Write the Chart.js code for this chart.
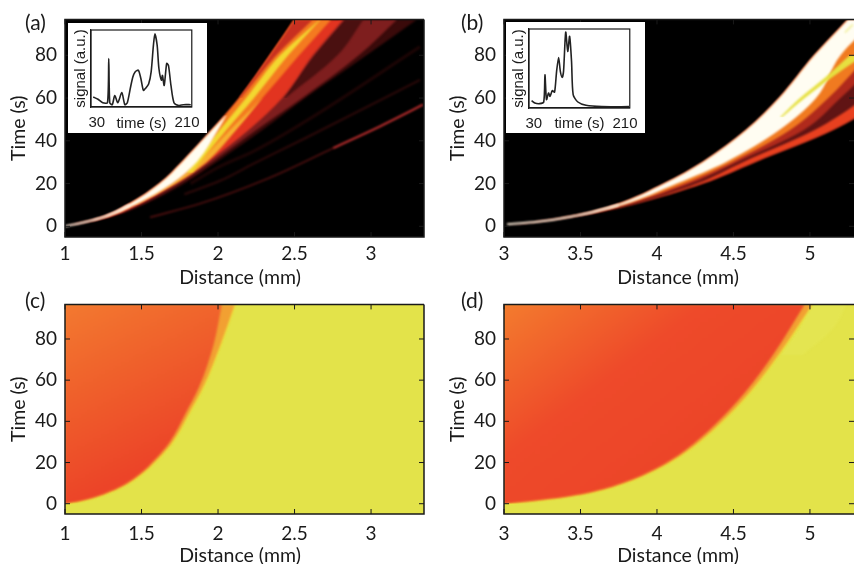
<!DOCTYPE html>
<html>
<head>
<meta charset="utf-8">
<script src="https://cdn.jsdelivr.net/npm/chart.js@4"></script>
<style>
html, body { margin: 0; padding: 0; background: #fff; overflow: hidden; }
#page { position: relative; width: 854px; height: 564px; overflow: hidden; }
.box { position: absolute; }
.inset { position: absolute; background: #fff; }
.tag { position: absolute; font: 21px Lato, sans-serif; color: #1a1a1a; line-height: 22px; }
.xname { position: absolute; width: 160px; margin-left: -80px; text-align: center; font: 19.5px Lato, sans-serif; color: #1a1a1a; line-height: 22px; }
</style>
</head>
<body>
<div id="page">
    <div class="box" style="left:0;top:0;width:430px;height:290px"><canvas id="panelA"></canvas></div>
    <div class="box" style="left:439px;top:0;width:415px;height:290px"><canvas id="panelB"></canvas></div>
    <div class="box" style="left:0;top:285px;width:430px;height:285px"><canvas id="panelC"></canvas></div>
    <div class="box" style="left:439px;top:285px;width:415px;height:285px"><canvas id="panelD"></canvas></div>
    <div class="inset" style="left:68px;top:23px;width:139px;height:110px"><canvas id="insetA"></canvas></div>
    <div class="inset" style="left:506px;top:22px;width:139px;height:111px"><canvas id="insetB"></canvas></div>
    <div class="tag" style="left:25px;top:11px">(a)</div>
    <div class="tag" style="left:461px;top:11px">(b)</div>
    <div class="tag" style="left:25px;top:289px">(c)</div>
    <div class="tag" style="left:461px;top:289px">(d)</div>
    <div class="xname" style="left:240px;top:266px">Distance (mm)</div>
    <div class="xname" style="left:678px;top:266px">Distance (mm)</div>
    <div class="xname" style="left:240px;top:544px">Distance (mm)</div>
    <div class="xname" style="left:678px;top:544px">Distance (mm)</div>
</div>
<script>
var timeTicks = [0, 20, 40, 60, 80];
var distanceTicksLeft = [1, 1.5, 2, 2.5, 3];
var distanceTicksRight = [3, 3.5, 4, 4.5, 5];

// panel (a): band edges, distance (mm) at each time (s)
var aTimes = [0, 4, 10, 20, 30, 45, 60, 80, 96.8];
var aEdge = [1, 1.23, 1.41, 1.62, 1.765, 1.96, 2.14, 2.34, 2.5];
var aDim = [1, 1.28, 1.51, 1.78, 1.99, 2.29, 2.57, 2.97, 3.3];
var aMedLeft = [1, 1.23, 1.41, 1.65, 1.85, 2.11, 2.35, 2.6, 2.8];
var aMedRight = [1, 1.27, 1.49, 1.75, 1.96, 2.25, 2.55, 2.92, 3.17];
var aRed = [1, 1.26, 1.47, 1.72, 1.93, 2.2, 2.42, 2.62, 2.82];
var aOrange = [1, 1.25, 1.46, 1.7, 1.89, 2.1, 2.29, 2.53, 2.74];
var aGapTimes = [60, 80, 96.8];
var aGapLeft = [2.43, 2.63, 2.83];
var aGapRight = [2.44, 2.78, 2.95];
var aRimEdge = [2.14, 2.34, 2.5];
var aRim = [2.15, 2.38, 2.62];
var aYellowTimes = [25, 30, 45, 60, 80, 96.8];
var aYellowLeft = [1.79, 1.84, 2.01, 2.183, 2.405, 2.665];
var aYellowRight = [1.83, 1.885, 2.055, 2.235, 2.458, 2.67];
var aWhiteTimes = [0, 4, 10, 20, 30, 45, 52];
var aWhiteLeft = [1, 1.23, 1.41, 1.62, 1.765, 1.96, 2.05];
var aWhiteRight = [1, 1.25, 1.455, 1.7, 1.86, 2, 2.055];
var aStartTimes = [0, 2, 4, 10];
var aStart = [1, 1.13, 1.235, 1.425];
var aStreakTimes = [10, 20, 30, 45, 60];
var aStreakLeft = [1.45, 1.69, 1.87, 2.078, 2.288];
var aStreakRight = [1.46, 1.725, 1.925, 2.118, 2.29];
var aTraceLowTimes = [4.2, 10.6, 22.2, 36.6];
var aTraceLow = [1.556, 1.882, 2.32, 2.752];
var aTraceHighTimes = [36.6, 46.8, 56.9];
var aTraceHigh = [2.752, 3.059, 3.34];
var aFaintTimes = [15, 21.3, 29.2, 41.2, 68.5];
var aFaint = [1.78, 2.013, 2.229, 2.569, 3.32];
var aFaint2Times = [20, 28, 35, 49, 84];
var aFaint2 = [1.82, 2.013, 2.229, 2.569, 3.32];

// panel (b)
var bTimes = [0, 2, 5, 10, 20, 30, 45, 60, 80, 96.8];
var bEdge = [3, 3.2, 3.46, 3.73, 4.05, 4.3, 4.585, 4.8, 5.03, 5.25];
var bLower = [3, 3.22, 3.5, 3.83, 4.3, 4.64, 5.15, 5.5, 5.9, 6.25];
var bRedLeft = [3, 3.215, 3.49, 3.81, 4.26, 4.56, 5.03, 5.36, 5.74, 6.1];
var bMed = [3, 3.21, 3.485, 3.8, 4.22, 4.525, 4.96, 5.2, 5.5, 5.8];
var bOrange = [3, 3.205, 3.475, 3.78, 4.18, 4.49, 4.87, 5.12, 5.38, 5.6];
var bWhite = [3, 3.205, 3.47, 3.77, 4.13, 4.45, 4.8, 5.04, 5.2, 5.43];
var bStartTimes = [1, 2, 5, 10];
var bStart = [3.02, 3.205, 3.475, 3.75];
var bYellowTimes = [51, 60, 70, 80];
var bYellowLeft = [4.804, 4.935, 5.105, 5.261];
var bYellowRight = [4.817, 4.967, 5.15, 5.353];
var bPaleTimes = [90.7, 94.4];
var bPale = [5.229, 5.281];

// panel (c) front
var cTimes = [0, 1.3, 3.2, 6, 9.5, 14.5, 21.5, 30, 43, 57, 77, 96.8];
var cInner = [1, 1.095, 1.195, 1.295, 1.392, 1.49, 1.588, 1.685, 1.782, 1.878, 1.97, 2.025];
var cOuter = [1, 1.102, 1.204, 1.305, 1.404, 1.503, 1.604, 1.703, 1.804, 1.905, 2.015, 2.11];

// panel (d) front
var dTimes = [0, 1.4, 3.2, 6, 10.5, 17, 26, 38.5, 54, 73, 96.8];
var dInner = [3, 3.19, 3.39, 3.59, 3.79, 3.99, 4.185, 4.38, 4.575, 4.765, 4.965];
var dOuter = [3, 3.2, 3.4, 3.603, 3.805, 4.005, 4.205, 4.405, 4.605, 4.8, 5.015];
var dPaleTimes = [72, 85, 96.8];
var dPaleLeft = [4.8, 4.93, 5];
var dPaleRight = [4.95, 5.15, 5.24];

// inset signals
var insetATime = [23, 32.5, 42, 51.5, 54, 56, 61, 66, 72, 80, 86, 91, 97.5, 102, 106.5, 113, 118, 123, 127, 133.5, 138.5, 143, 146, 150.5, 154, 159, 161, 164.5, 169.5, 173, 178, 184, 193.5, 203, 217.5];
var insetASignal = [13, 10, 5.6, 5.6, 63, 5.6, 3, 15, 5.6, 18.7, 3, 5.6, 26, 39, 45.6, 47.8, 37, 21.7, 24, 30, 45.6, 80, 95, 80, 50, 34.8, 41, 28, 56.5, 54, 28, 5.6, 2, 3, 3];
var insetBTime = [25.6, 32, 41.4, 49.6, 52, 55, 59, 62, 66.6, 71, 75, 79, 82.4, 86, 88.7, 93, 97, 100.7, 104.5, 107.7, 117, 133, 164.5, 218];
var insetBSignal = [9.3, 6.3, 5.5, 7.6, 42, 10.5, 19, 14.8, 22, 20, 46.4, 64, 46.4, 38.8, 46.4, 96, 71.7, 90.7, 59, 16.9, 7.6, 3.4, 1.7, 1.7];
var insetTicks = [30, 210];

var labelFont = 'Lato, sans-serif';
var inkColor = "#1a1a1a";

function toPoints(distances, times) {
    return times.map(function (t, i) {
        return { x: distances[i], y: t };
    });
}

// layers go bottom to top; chart.js paints dataset 0 last, so flip them here
function buildDatasets(layers) {
    var datasets = [];
    layers.slice().reverse().forEach(function (layer) {
        if (layer.line) {
            datasets.push({
                data: toPoints(layer.line, layer.times),
                borderColor: layer.color,
                borderWidth: layer.width,
                backgroundColor: "transparent",
                fill: false
            });
            return;
        }
        var from = Array.isArray(layer.left) ? layer.left : layer.times.map(function () { return layer.left; });
        datasets.push({
            data: toPoints(from, layer.times),
            borderColor: "transparent",
            borderWidth: 0,
            fill: false
        });
        datasets.push({
            data: toPoints(layer.right, layer.times),
            borderColor: "transparent",
            borderWidth: 0,
            backgroundColor: layer.color,
            fill: { target: datasets.length - 1 }
        });
    });
    return datasets;
}

var framePlugin = {
    id: "frame",
    beforeDraw: function (chart, args, opts) {
        var area = chart.chartArea;
        chart.ctx.fillStyle = opts.background;
        chart.ctx.fillRect(area.left, area.top, area.right - area.left, area.bottom - area.top);
    },
    beforeDatasetsDraw: function (chart, args, opts) {
        chart.ctx.save();
        chart.ctx.filter = "blur(" + opts.blur + "px)";
    },
    afterDatasetsDraw: function (chart) {
        chart.ctx.restore();
    },
    afterDraw: function (chart, args, opts) {
        var ctx = chart.ctx;
        var area = chart.chartArea;
        ctx.save();
        ctx.strokeStyle = inkColor;
        ctx.lineWidth = opts.line;
        ctx.beginPath();
        ctx.moveTo(area.right, area.top);
        ctx.lineTo(area.left, area.top);
        ctx.lineTo(area.left, area.bottom);
        ctx.lineTo(area.right, area.bottom);
        if (opts.closed) {
            ctx.lineTo(area.right, area.top);
        }
        ctx.stroke();
        ctx.lineWidth = 1;
        ctx.beginPath();
        chart.scales.x.ticks.forEach(function (tick) {
            var px = chart.scales.x.getPixelForValue(tick.value);
            ctx.moveTo(px, area.bottom);
            ctx.lineTo(px, area.bottom - opts.tick);
            ctx.moveTo(px, area.top);
            ctx.lineTo(px, area.top + opts.tick);
        });
        chart.scales.y.ticks.forEach(function (tick) {
            var py = chart.scales.y.getPixelForValue(tick.value);
            ctx.moveTo(area.left, py);
            ctx.lineTo(area.left + opts.tick, py);
            ctx.moveTo(area.right, py);
            ctx.lineTo(area.right - opts.tick, py);
        });
        ctx.stroke();
        ctx.restore();
    }
};

function setTicks(list) {
    return function (axis) {
        axis.ticks = list.map(function (v) {
            return { value: v };
        });
    };
}

function setSize(prop, size) {
    return function (axis) {
        axis[prop] = size;
    };
}

function makePanel(id, cfg) {
    return new Chart(document.getElementById(id), {
        type: "line",
        data: { datasets: buildDatasets(cfg.layers) },
        plugins: [framePlugin],
        options: {
            indexAxis: "y",
            responsive: true,
            maintainAspectRatio: false,
            animation: false,
            events: [],
            layout: { padding: { top: cfg.top, right: cfg.right, left: 0, bottom: 0 } },
            elements: {
                point: { radius: 0 },
                line: { cubicInterpolationMode: "monotone", capBezierPoints: false }
            },
            plugins: {
                legend: { display: false },
                tooltip: { enabled: false },
                frame: { background: cfg.background, blur: cfg.blur, line: 1.5, tick: 5, closed: cfg.closed }
            },
            scales: {
                x: {
                    type: "linear",
                    min: cfg.xMin,
                    max: cfg.xMax,
                    afterBuildTicks: setTicks(cfg.xTicks),
                    afterFit: setSize("height", cfg.bottom),
                    grid: { display: false, drawTicks: false },
                    border: { display: false },
                    ticks: {
                        padding: cfg.tickPad,
                        autoSkip: false,
                        maxRotation: 0,
                        color: inkColor,
                        font: { family: labelFont, size: 19 },
                        callback: function (v) { return String(v); }
                    }
                },
                y: {
                    type: "linear",
                    min: -5,
                    max: 96.8,
                    afterBuildTicks: setTicks(timeTicks),
                    afterFit: setSize("width", 65),
                    grid: { display: false, drawTicks: false },
                    border: { display: false },
                    ticks: {
                        padding: 8,
                        autoSkip: false,
                        color: inkColor,
                        font: { family: labelFont, size: 19 },
                        callback: function (v) { return String(v); }
                    },
                    title: {
                        display: true,
                        text: "Time (s)",
                        color: inkColor,
                        font: { family: labelFont, size: 19.5 },
                        padding: { top: 7, bottom: 0 }
                    }
                }
            }
        }
    });
}

function makeInset(id, times, signal, cfg) {
    return new Chart(document.getElementById(id), {
        type: "line",
        data: {
            datasets: [{
                data: toPoints(times, signal),
                borderColor: "#222",
                borderWidth: 1.6,
                fill: false
            }]
        },
        options: {
            responsive: true,
            maintainAspectRatio: false,
            animation: false,
            events: [],
            layout: { padding: { top: cfg.top, right: cfg.right, left: 0, bottom: 0 } },
            elements: { point: { radius: 0 }, line: { tension: 0.25 } },
            plugins: { legend: { display: false }, tooltip: { enabled: false } },
            scales: {
                x: {
                    type: "linear",
                    min: cfg.xMin,
                    max: cfg.xMax,
                    afterBuildTicks: setTicks(insetTicks),
                    afterFit: setSize("height", cfg.bottom),
                    grid: { display: false, drawTicks: false },
                    border: { display: true, color: inkColor, width: 1.2 },
                    ticks: {
                        padding: 7,
                        autoSkip: false,
                        maxRotation: 0,
                        color: inkColor,
                        font: { family: '"Liberation Sans", sans-serif', size: 15 },
                        callback: function (v) { return String(v); }
                    },
                    title: {
                        display: true,
                        text: "time (s)",
                        color: inkColor,
                        font: { family: '"Liberation Sans", sans-serif', size: 15 },
                        padding: { top: 0, bottom: 0 }
                    }
                },
                y: {
                    type: "linear",
                    min: 0,
                    max: 100,
                    ticks: { display: false },
                    afterFit: setSize("width", 23),
                    grid: { display: false, drawTicks: false },
                    border: { display: true, color: inkColor, width: 1.2 },
                    title: {
                        display: true,
                        text: "signal (a.u.)",
                        color: inkColor,
                        font: { family: '"Liberation Sans", sans-serif', size: 15 },
                        padding: { top: 4, bottom: 0 }
                    }
                }
            }
        },
        plugins: [{
            id: "insetBox",
            afterDraw: function (chart) {
                var area = chart.chartArea;
                chart.ctx.save();
                chart.ctx.strokeStyle = inkColor;
                chart.ctx.lineWidth = 1.2;
                chart.ctx.strokeRect(area.left, area.top, area.right - area.left, area.bottom - area.top);
                chart.ctx.restore();
            }
        }]
    });
}

function frontGradient(x0, y0, x1, y1, stops) {
    return function (context) {
        var chart = context.chart;
        var gradient = chart.ctx.createLinearGradient(x0, y0, x1, y1);
        stops.forEach(function (color, i) {
            gradient.addColorStop(i / (stops.length - 1), color);
        });
        return gradient;
    };
}

makePanel("panelA", {
    top: 17, right: 6, bottom: 53, tickPad: 5,
    xMin: 1, xMax: 3.346, xTicks: distanceTicksLeft,
    background: "#000", blur: 0.8, closed: true,
    layers: [
        { times: aTimes, left: aEdge, right: aDim, color: "#3a0a0a" },
        { times: aFaintTimes, line: aFaint, color: "#2e0909", width: 2 },
        { times: aFaint2Times, line: aFaint2, color: "#1e0505", width: 3 },
        { times: aTraceLowTimes, line: aTraceLow, color: "#5e1212", width: 1.5 },
        { times: aTraceHighTimes, line: aTraceHigh, color: "#c83030", width: 2 },
        { times: aTimes, left: aMedLeft, right: aMedRight, color: "#7e1e1e" },
        { times: aGapTimes, left: aGapLeft, right: aGapRight, color: "#4a1010" },
        { times: aTimes, left: aEdge, right: aRed, color: "#e23420" },
        { times: aTimes, left: aEdge, right: aOrange, color: "#f47a20" },
        { times: aGapTimes, left: aRimEdge, right: aRim, color: "#c83020" },
        { times: aStreakTimes, left: aStreakLeft, right: aStreakRight, color: "#f6b030" },
        { times: aYellowTimes, left: aYellowLeft, right: aYellowRight, color: "#f2d830" },
        { times: aWhiteTimes, left: aWhiteLeft, right: aWhiteRight, color: "#fffdf0" },
        { times: aStartTimes, line: aStart, color: "#fff0e0", width: 1.8 }
    ]
});

makePanel("panelB", {
    top: 17, right: 0, bottom: 53, tickPad: 5,
    xMin: 3, xMax: 5.288, xTicks: distanceTicksRight,
    background: "#000", blur: 0.8, closed: false,
    layers: [
        { times: bTimes, left: bEdge, right: bLower, color: "#601414" },
        { times: bTimes, left: bRedLeft, right: bLower, color: "#e8401f" },
        { times: bTimes, left: bEdge, right: bMed, color: "#b02a1c" },
        { times: bTimes, left: bEdge, right: bOrange, color: "#f07a20" },
        { times: bTimes, left: bEdge, right: bWhite, color: "#fffdf2" },
        { times: bStartTimes, line: bStart, color: "#fdebd8", width: 2 },
        { times: bYellowTimes, left: bYellowLeft, right: bYellowRight, color: "#e6e040" },
        { times: bPaleTimes, line: bPale, color: "#eeee90", width: 1.5 }
    ]
});

makePanel("panelC", {
    top: 11, right: 6, bottom: 56, tickPad: 8,
    xMin: 1, xMax: 3.346, xTicks: distanceTicksLeft,
    background: "#e3e34a", blur: 1.2, closed: true,
    layers: [
        { times: cTimes, line: cOuter, color: "#f2e636", width: 1.5 },
        { times: cTimes, left: 1, right: cOuter, color: "#f2a032" },
        {
            times: cTimes, left: 1, right: cInner,
            color: frontGradient(0, 11, 100, 205, ["#f58432", "#f0642c", "#ec4428"])
        }
    ]
});

makePanel("panelD", {
    top: 11, right: 0, bottom: 56, tickPad: 8,
    xMin: 3, xMax: 5.288, xTicks: distanceTicksRight,
    background: "#e3e34a", blur: 1.2, closed: false,
    layers: [
        { times: dPaleTimes, left: dPaleLeft, right: dPaleRight, color: "#e4e551" },
        { times: dTimes, line: dOuter, color: "#f2e636", width: 1.5 },
        { times: dTimes, left: 3, right: dOuter, color: "#f2a032" },
        {
            times: dTimes, left: 3, right: dInner,
            color: frontGradient(65, 11, 221, 215, ["#f47e2e", "#ee4a2a", "#ec4428"])
        }
    ]
});

makeInset("insetA", insetATime, insetASignal, { top: 7, right: 10, bottom: 26, xMin: 18.6, xMax: 219.5 });
makeInset("insetB", insetBTime, insetBSignal, { top: 7, right: 11, bottom: 25, xMin: 20.5, xMax: 219.5 });
</script>
</body>
</html>
